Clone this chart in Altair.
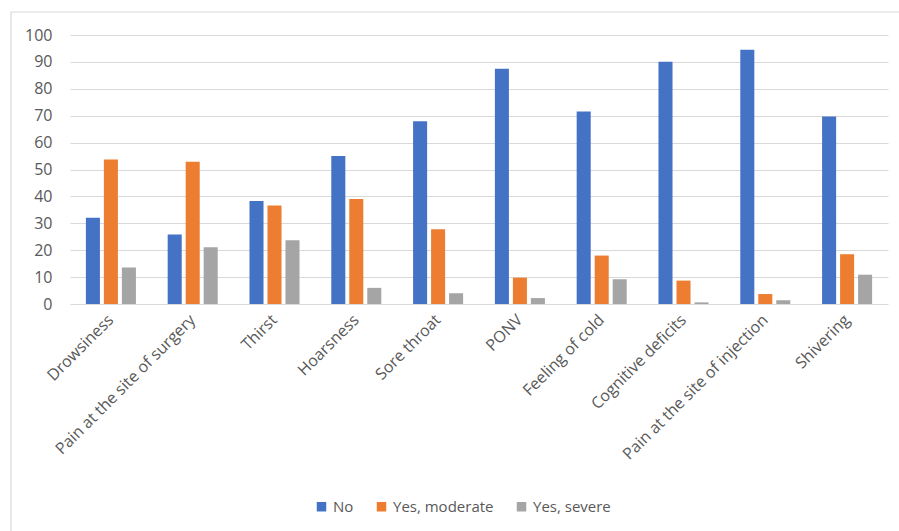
import altair as alt
import pandas as pd

categories = ["Drowsiness", "Pain at the site of surgery", "Thirst", "Hoarsness",
              "Sore throat", "PONV", "Feeling of cold", "Cognitive deficits",
              "Pain at the site of injection", "Shivering"]
series = ["No", "Yes, moderate", "Yes, severe"]
no_vals = [32.1, 25.8, 38.3, 55.0, 67.9, 87.5, 71.6, 90.1, 94.5, 69.7]
moderate_vals = [53.7, 52.9, 36.6, 39.0, 27.8, 9.8, 18.0, 8.7, 3.7, 18.5]
severe_vals = [13.6, 21.1, 23.7, 6.0, 4.0, 2.2, 9.2, 0.6, 1.4, 10.9]
colors = ["#4472C4", "#ED7D31", "#A5A5A5"]

rows = []
for s, vals in zip(series, [no_vals, moderate_vals, severe_vals]):
    for c, v in zip(categories, vals):
        rows.append({"Symptom": c, "Series": s, "Value": v})
df = pd.DataFrame(rows)

FONT = "Open Sans"

bars = alt.Chart(df).mark_bar().encode(
    x=alt.X("Symptom:N", sort=categories, title=None,
            scale=alt.Scale(paddingInner=0.34, paddingOuter=0.17),
            axis=alt.Axis(labelAngle=-45, labelAlign="right", labelBaseline="middle",
                          labelPadding=13, ticks=False, domain=False,
                          labelFont=FONT, labelFontSize=16, labelColor="#595959",
                          labelLimit=400)),
    xOffset=alt.XOffset("Series:N", sort=series,
                        scale=alt.Scale(paddingInner=0.22, paddingOuter=0.11)),
    y=alt.Y("Value:Q", title=None,
            scale=alt.Scale(domain=[0, 100]),
            axis=alt.Axis(values=list(range(0, 101, 10)), ticks=False, domain=False,
                          gridColor="#D9D9D9", gridWidth=1.2,
                          labelFont=FONT, labelFontSize=16, labelColor="#595959",
                          labelPadding=18)),
    color=alt.Color("Series:N", sort=series,
                    scale=alt.Scale(domain=series, range=colors),
                    legend=alt.Legend(title=None, orient="none", direction="horizontal",
                                      legendX=244, legendY=464,
                                      symbolType="square", symbolSize=90,
                                      symbolStrokeWidth=0,
                                      labelFont=FONT, labelFontSize=15,
                                      labelColor="#595959", columnPadding=20,
                                      labelOffset=4)),
)

border = alt.Chart(pd.DataFrame({"a": [0]})).mark_rect(
    fill="transparent", stroke="#D9D9D9", strokeWidth=1.2
).encode(
    x=alt.value(-59), x2=alt.value(860),
    y=alt.value(-23), y2=alt.value(540),
)

chart = alt.layer(border, bars).properties(
    width=818, height=269,
    autosize=alt.AutoSizeParams(type="none"),
    padding={"left": 70, "top": 35, "right": 11, "bottom": 227},
    background="white",
).configure_view(stroke=None)

chart.save("out.html", embed_options={"renderer": "svg", "actions": False})
